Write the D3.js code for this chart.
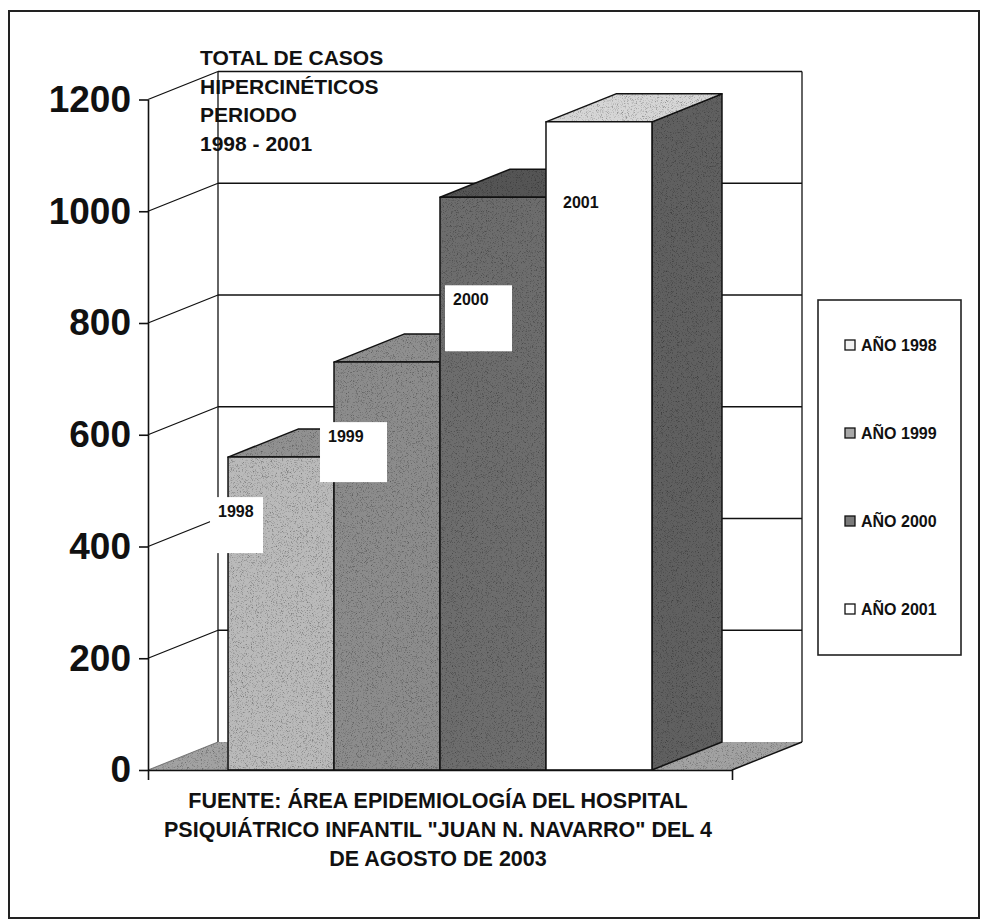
<!DOCTYPE html>
<html>
<head>
<meta charset="utf-8">
<script src="https://cdn.jsdelivr.net/npm/d3@7"></script>
<style>
  body { margin: 0; background: #fff; }
  svg { display: block; }
  text { font-family: "Liberation Sans", Arial, Helvetica, sans-serif; font-weight: bold; fill: #111; }
</style>
</head>
<body>
<svg id="chart" width="981" height="923"></svg>
<script>
// ---- data ----
const years = ["1998", "1999", "2000", "2001"];
const cases = [560, 730, 1025, 1160];
const legendLabels = ["AÑO 1998", "AÑO 1999", "AÑO 2000", "AÑO 2001"];
const yTicks = [0, 200, 400, 600, 800, 1000, 1200];
const titleLines = ["TOTAL DE CASOS", "HIPERCINÉTICOS", "PERIODO", "1998 - 2001"];
const sourceLines = [
  "FUENTE: ÁREA EPIDEMIOLOGÍA DEL HOSPITAL",
  "PSIQUIÁTRICO INFANTIL \"JUAN N. NAVARRO\" DEL 4",
  "DE AGOSTO DE 2003"
];

// ---- styling ----
const frontFill  = ["#bababa", "#8c8c8c", "#6d6d6d", "#ffffff"];
const topFill    = ["#919191", "#8f8f8f", "#555555", "#d6d6d6"];
const sideFill   = ["#7b7b7b", "#6b6b6b", "#575757", "#606060"];
const legendFill = ["#f2f2f2", "#a8a8a8", "#7a7a7a", "#ffffff"];
const grainy     = [true, true, true, false];
// data-label boxes, placed relative to each bar's front-top corner
const labelBox = [
  { dx: -18, dy: 40, w: 53, h: 56 },
  { dx: -14, dy: 60, w: 67, h: 60 },
  { dx: 5,   dy: 88, w: 67, h: 66 },
  { dx: 9,   dy: 66, w: 66, h: 62 }
];

const svg = d3.select("#chart");
const ink = "#111";
const depth = { x: 70, y: -28 };        // oblique projection of the chart depth

const y = d3.scaleLinear().domain([0, 1200]).range([770, 99.5]);
const x = d3.scaleBand().domain(years).range([148, 732]).paddingInner(0).paddingOuter(0.755);
const x0 = 148, x1 = 732;

// grain texture for the shaded faces
const defs = svg.append("defs");
const f = defs.append("filter").attr("id", "grain")
  .attr("x", 0).attr("y", 0).attr("width", 1).attr("height", 1)
  .attr("color-interpolation-filters", "sRGB");
f.append("feTurbulence").attr("type", "fractalNoise").attr("baseFrequency", 1.2)
  .attr("numOctaves", 2).attr("seed", 4).attr("result", "noise");
f.append("feColorMatrix").attr("in", "noise").attr("type", "matrix")
  .attr("values", "1 0 0 0 0  1 0 0 0 0  1 0 0 0 0  0 0 0 0 1")
  .attr("result", "gray");
const ct = f.append("feComponentTransfer").attr("in", "gray").attr("result", "shade");
["feFuncR", "feFuncG", "feFuncB"].forEach(fn =>
  ct.append(fn).attr("type", "linear").attr("slope", 1.1).attr("intercept", 0.48));
f.append("feBlend").attr("in", "SourceGraphic").attr("in2", "shade").attr("mode", "multiply").attr("result", "mixed");
f.append("feComposite").attr("in", "mixed").attr("in2", "SourceGraphic").attr("operator", "in");

// outer frame
svg.append("rect").attr("x", 9).attr("y", 11).attr("width", 970).attr("height", 907)
  .attr("fill", "none").attr("stroke", "#222").attr("stroke-width", 2);

const line = d3.line();
const poly = pts => line(pts) + "Z";

// back wall and its gridlines
const wall = svg.append("g").attr("stroke", ink).attr("stroke-width", 1.3).attr("fill", "none");
wall.append("path").attr("d", line([[x0 + depth.x, y(0) + depth.y], [x0 + depth.x, y(1200) + depth.y]]));
wall.append("path").attr("d", line([[x1 + depth.x, y(0) + depth.y], [x1 + depth.x, y(1200) + depth.y]]));
wall.selectAll(".grid").data(yTicks.filter(t => t > 0)).join("path")
  .attr("d", t => line([[x0 + depth.x, y(t) + depth.y], [x1 + depth.x, y(t) + depth.y]]));
// side wall lines
wall.selectAll(".side").data(yTicks.filter(t => t > 0)).join("path")
  .attr("d", t => line([[x0, y(t)], [x0 + depth.x, y(t) + depth.y]]));

// floor
svg.append("path")
  .attr("d", poly([[x0, y(0)], [x1, y(0)], [x1 + depth.x, y(0) + depth.y], [x0 + depth.x, y(0) + depth.y]]))
  .attr("fill", "#a2a2a2").attr("filter", "url(#grain)")
  .attr("stroke", "none");
svg.append("path").attr("d", line([[x1, y(0)], [x1 + depth.x, y(0) + depth.y]]))
  .attr("stroke", ink).attr("stroke-width", 1.5).attr("fill", "none");
svg.append("path").attr("d", line([[x0, y(0)], [x0 + depth.x, y(0) + depth.y]]))
  .attr("stroke", "#555").attr("stroke-width", 0.8).attr("fill", "none");

// 3D columns, drawn left to right so each covers its neighbour's side
const bars = svg.append("g");
years.forEach((yr, i) => {
  const l = x(yr), r = x(yr) + x.bandwidth(), t = y(cases[i]), b = y(0);
  const g = bars.append("g").attr("stroke", ink).attr("stroke-width", 1.5).attr("stroke-linejoin", "round");
  const side = poly([[r, t], [r + depth.x, t + depth.y], [r + depth.x, b + depth.y], [r, b]]);
  const top = poly([[l, t], [r, t], [r + depth.x, t + depth.y], [l + depth.x, t + depth.y]]);
  const front = poly([[l, t], [r, t], [r, b], [l, b]]);
  g.append("path").attr("d", side).attr("fill", sideFill[i]).attr("filter", "url(#grain)").attr("stroke", "none");
  g.append("path").attr("d", side).attr("fill", "none");
  g.append("path").attr("d", top).attr("fill", topFill[i]).attr("filter", "url(#grain)").attr("stroke", "none");
  g.append("path").attr("d", top).attr("fill", "none");
  g.append("path").attr("d", front).attr("fill", frontFill[i])
    .attr("filter", grainy[i] ? "url(#grain)" : null).attr("stroke", "none");
  g.append("path").attr("d", front).attr("fill", "none");
});

// value axis
const yAxis = svg.append("g").attr("transform", `translate(${x0},0)`)
  .call(d3.axisLeft(y).tickValues(yTicks).tickSize(9).tickSizeOuter(0).tickPadding(8).tickFormat(d3.format("d")));
yAxis.attr("font-family", null);
yAxis.select(".domain").attr("stroke", ink).attr("stroke-width", 1.6);
yAxis.selectAll(".tick line").attr("stroke", ink).attr("stroke-width", 1.6);
yAxis.selectAll(".tick text").attr("font-size", 37).attr("fill", ink);

// category axis
const xAxis = svg.append("g").attr("transform", `translate(0,${y(0)})`)
  .call(d3.axisBottom(d3.scaleLinear().domain([0, 1]).range([x0, x1]))
    .tickValues([0, 1]).tickSize(10).tickSizeOuter(0).tickFormat(""));
xAxis.select(".domain").attr("stroke", ink).attr("stroke-width", 1.6);
xAxis.selectAll(".tick line").attr("stroke", ink).attr("stroke-width", 1.6);

// data labels
const labels = svg.append("g");
years.forEach((yr, i) => {
  const bx = x(yr) + labelBox[i].dx, by = y(cases[i]) + labelBox[i].dy;
  labels.append("rect").attr("x", bx).attr("y", by)
    .attr("width", labelBox[i].w).attr("height", labelBox[i].h).attr("fill", "#fff");
  labels.append("text").attr("x", bx + 8).attr("y", by + 20)
    .attr("font-size", 16).text(yr);
});

// title
svg.append("g").selectAll("text").data(titleLines).join("text")
  .attr("x", 200).attr("y", (d, i) => 65 + i * 28.7)
  .attr("font-size", 21).text(d => d);

// legend
const legend = svg.append("g");
legend.append("rect").attr("x", 818).attr("y", 300).attr("width", 143).attr("height", 355)
  .attr("fill", "#fff").attr("stroke", "#222").attr("stroke-width", 1.6);
const rows = legend.selectAll(".row").data(legendLabels).join("g")
  .attr("transform", (d, i) => `translate(845,${345 + i * 88})`);
rows.append("rect").attr("x", 0).attr("y", -5).attr("width", 10).attr("height", 10)
  .attr("fill", (d, i) => legendFill[i]).attr("stroke", ink).attr("stroke-width", 1.3);
rows.append("text").attr("x", 16).attr("y", 0).attr("dy", "0.36em")
  .attr("font-size", 16).text(d => d);

// source note
svg.append("g").selectAll("text").data(sourceLines).join("text")
  .attr("x", 438).attr("y", (d, i) => 808 + i * 29).attr("text-anchor", "middle")
  .attr("font-size", 21.5).text(d => d);
</script>
</body>
</html>
